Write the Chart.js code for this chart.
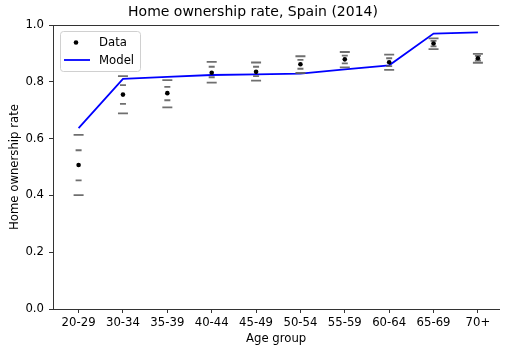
<!DOCTYPE html>
<html lang="en">
  <head>
    <meta charset="UTF-8" />
    <title>Home ownership rate, Spain (2014)</title>
    <script src="https://cdn.jsdelivr.net/npm/chart.js"></script>
    <style>
      body {
        margin: 0;
        background-color: #ffffff;
        overflow: hidden;
      }

      .chart-container {
        position: relative;
        width: 506px;
        height: 347px;
      }
    </style>
  </head>

  <body>
    <div class="chart-container">
      <canvas id="ownershipChart"></canvas>
    </div>

    <script>
      // age groups on the x axis
      const ageGroups = ["20-29", "30-34", "35-39", "40-44", "45-49", "50-54", "55-59", "60-64", "65-69", "70+"];

      // observed ownership rate and its two confidence bands
      const dataRate = [0.507, 0.755, 0.760, 0.832, 0.835, 0.862, 0.879, 0.869, 0.935, 0.883];
      const outerHigh = [0.613, 0.820, 0.806, 0.870, 0.868, 0.890, 0.905, 0.896, 0.953, 0.898];
      const outerLow = [0.401, 0.689, 0.710, 0.797, 0.804, 0.831, 0.851, 0.842, 0.915, 0.867];
      const innerHigh = [0.559, 0.788, 0.782, 0.853, 0.853, 0.877, 0.892, 0.883, 0.944, 0.891];
      const innerLow = [0.453, 0.722, 0.735, 0.816, 0.820, 0.846, 0.865, 0.855, 0.925, 0.875];

      // model prediction
      const modelRate = [0.637, 0.810, 0.817, 0.824, 0.826, 0.829, 0.844, 0.858, 0.970, 0.974];

      const yTicks = [0, 0.2, 0.4, 0.6, 0.8, 1.0];

      const FONT = "'DejaVu Sans', sans-serif";
      const CAP_COLOR = "rgba(95, 95, 95, 0.9)";

      function toPoints(values) {
        return values.map((v, i) => ({ x: i, y: v }));
      }

      function capSet(values, half) {
        return {
          type: "scatter",
          data: toPoints(values),
          pointStyle: "line",
          pointRadius: half,
          pointHoverRadius: half,
          borderColor: CAP_COLOR,
          borderWidth: 1.8,
        };
      }

      // top spine (matplotlib-style box without the right edge, which is cut off)
      const topSpine = {
        id: "topSpine",
        afterDraw(chart) {
          const { ctx, chartArea } = chart;
          ctx.save();
          ctx.strokeStyle = "#333";
          ctx.lineWidth = 1;
          ctx.beginPath();
          ctx.moveTo(chartArea.left, chartArea.top + 0.5);
          ctx.lineTo(chartArea.right, chartArea.top + 0.5);
          ctx.stroke();
          ctx.restore();
        },
      };

      // legend box drawn inside the plot, upper left
      const insideLegend = {
        id: "insideLegend",
        afterDatasetsDraw(chart) {
          const { ctx, chartArea } = chart;
          const x = chartArea.left + 7;
          const y = chartArea.top + 6;
          const w = 80;
          const h = 40;
          ctx.save();
          ctx.fillStyle = "rgba(255,255,255,0.85)";
          ctx.strokeStyle = "#d0d0d0";
          ctx.lineWidth = 1;
          ctx.beginPath();
          ctx.roundRect(x + 0.5, y + 0.5, w, h, 3);
          ctx.fill();
          ctx.stroke();

          // Data: black dot
          ctx.fillStyle = "#000";
          ctx.beginPath();
          ctx.arc(x + 16, y + 11.5, 2.3, 0, Math.PI * 2);
          ctx.fill();

          // Model: blue line
          ctx.strokeStyle = "#0000ff";
          ctx.lineWidth = 1.8;
          ctx.beginPath();
          ctx.moveTo(x + 4, y + 29);
          ctx.lineTo(x + 30, y + 29);
          ctx.stroke();

          ctx.fillStyle = "#000";
          ctx.font = "11.7px " + FONT;
          ctx.textBaseline = "middle";
          ctx.fillText("Data", x + 39, y + 11.5);
          ctx.fillText("Model", x + 39, y + 29.5);
          ctx.restore();
        },
      };

      const ctx = document.getElementById("ownershipChart").getContext("2d");
      new Chart(ctx, {
        data: {
          datasets: [
            {
              type: "scatter",
              label: "Data",
              data: toPoints(dataRate),
              pointStyle: "circle",
              pointRadius: 2.3,
              pointHoverRadius: 2.3,
              backgroundColor: "#000",
              borderColor: "#000",
              borderWidth: 0,
            },
            capSet(outerHigh, 5),
            capSet(outerLow, 5),
            capSet(innerHigh, 3),
            capSet(innerLow, 3),
            {
              type: "line",
              label: "Model",
              data: toPoints(modelRate),
              borderColor: "#0000ff",
              borderWidth: 1.8,
              pointRadius: 0,
              tension: 0,
              fill: false,
            },
          ],
        },
        options: {
          responsive: true,
          maintainAspectRatio: false,
          animation: false,
          events: [],
          layout: { padding: 0 },
          plugins: {
            legend: { display: false },
            tooltip: { enabled: false },
            title: {
              display: true,
              text: "Home ownership rate, Spain (2014)",
              color: "#000",
              font: { family: FONT, size: 14, weight: "normal" },
              padding: { top: 4, bottom: 4.2 },
            },
          },
          scales: {
            x: {
              type: "linear",
              min: -0.577,
              max: 9.48,
              afterFit(scale) {
                scale.height = 38;
              },
              afterBuildTicks(scale) {
                scale.ticks = ageGroups.map((_, i) => ({ value: i }));
              },
              ticks: {
                color: "#000",
                font: { family: FONT, size: 11.7 },
                padding: 3,
                maxRotation: 0,
                autoSkip: false,
                callback: (v) => ageGroups[v],
              },
              grid: {
                drawOnChartArea: false,
                tickLength: 4,
                color: "#333",
              },
              border: { color: "#333", width: 1 },
              title: {
                display: true,
                text: "Age group",
                color: "#000",
                font: { family: FONT, size: 11.7 },
                padding: { top: 0, bottom: 1 },
              },
            },
            y: {
              min: 0,
              max: 1,
              afterFit(scale) {
                scale.width = 53;
              },
              afterBuildTicks(scale) {
                scale.ticks = yTicks.map((v) => ({ value: v }));
              },
              ticks: {
                color: "#000",
                font: { family: FONT, size: 11.7 },
                padding: 5,
                callback: (v) => v.toFixed(1),
              },
              grid: {
                drawOnChartArea: false,
                tickLength: 4,
                color: "#333",
              },
              border: { color: "#333", width: 1 },
              title: {
                display: true,
                text: "Home ownership rate",
                color: "#000",
                font: { family: FONT, size: 11.7 },
                padding: { top: 8, bottom: 0 },
              },
            },
          },
        },
        plugins: [topSpine, insideLegend],
      });
    </script>
  </body>
</html>
